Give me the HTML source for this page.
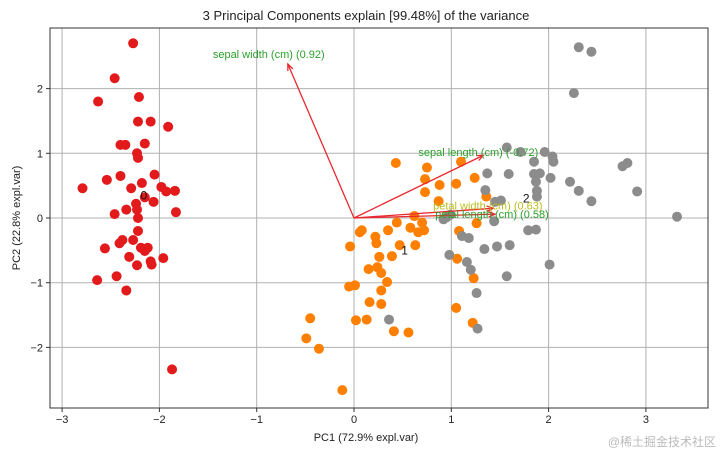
<!DOCTYPE html>
<html><head><meta charset="utf-8"><style>
html,body{margin:0;padding:0;background:#fff;}
svg{display:block;font-family:"Liberation Sans","DejaVu Sans",sans-serif;}
</style></head><body>
<svg id="chart" width="720" height="455" viewBox="0 0 720 455">
<text x="366" y="20" text-anchor="middle" font-size="13" fill="#222">3 Principal Components explain [99.48%] of the variance</text>
<text x="366" y="441" text-anchor="middle" font-size="11" fill="#222">PC1 (72.9% expl.var)</text>
<text x="20" y="218" text-anchor="middle" font-size="11" fill="#222" transform="rotate(-90 20 218)">PC2 (22.8% expl.var)</text>
<text x="716" y="446" text-anchor="end" font-size="12" fill="#bbb" font-family="'Liberation Sans','Noto Sans CJK SC',sans-serif">@稀土掘金技术社区</text>
<g id="grid"></g><g id="pts"></g><g id="arrows"></g><g id="axes"></g>
</svg>
<script>
const xTicks=[-3,-2,-1,0,1,2,3];
const yTicks=[-2,-1,0,1,2];
const class0X=[-2.27,-2.46,-2.63,-2.21,-2.22,-2.09,-1.91,-2.40,-2.35,-2.15,-2.23,-2.22,-2.79,-2.54,-2.40,-2.05,-2.29,-2.18,-1.98,-1.93,-1.84,-2.15,-2.24,-2.06,-2.34,-2.46,-2.23,-2.22,-1.83,-2.22,-2.27,-2.38,-2.41,-2.56,-2.19,-2.12,-2.15,-2.31,-1.96,-2.23,-2.09,-2.08,-2.64,-2.44,-2.34,-1.87];
const class0Y=[2.70,2.16,1.80,1.87,1.49,1.49,1.41,1.13,1.13,1.15,1.00,0.93,0.46,0.59,0.65,0.67,0.46,0.54,0.48,0.41,0.42,0.32,0.22,0.25,0.13,0.06,0.13,0.00,0.09,-0.20,-0.34,-0.34,-0.39,-0.47,-0.46,-0.46,-0.51,-0.60,-0.62,-0.73,-0.67,-0.72,-0.96,-0.90,-1.12,-2.34];
const class1X=[0.43,0.75,0.73,1.10,0.88,1.05,1.24,0.73,0.87,1.36,0.62,0.70,0.44,0.08,0.06,0.35,0.58,0.66,0.72,1.08,1.26,0.22,0.23,-0.04,0.47,0.63,0.26,0.39,0.15,0.24,0.28,1.06,0.34,0.01,-0.05,0.28,1.23,0.16,0.28,1.05,0.02,0.13,-0.45,-0.49,-0.36,0.41,0.56,1.22,-0.12];
const class1Y=[0.85,0.78,0.60,0.87,0.51,0.53,0.62,0.40,0.26,0.33,0.03,-0.07,-0.07,-0.19,-0.22,-0.19,-0.15,-0.22,-0.19,-0.20,-0.08,-0.29,-0.39,-0.44,-0.42,-0.42,-0.60,-0.59,-0.79,-0.76,-0.85,-0.63,-0.99,-1.04,-1.06,-1.12,-0.93,-1.30,-1.33,-1.39,-1.58,-1.57,-1.55,-1.86,-2.02,-1.75,-1.77,-1.62,-2.66];
const class2X=[2.31,2.44,2.26,1.57,1.71,1.96,2.04,2.05,1.85,2.76,2.81,1.37,1.59,1.85,1.91,2.02,1.87,2.22,1.35,2.31,2.91,1.88,1.88,1.51,1.45,2.44,3.32,0.95,0.99,1.44,1.79,1.87,1.11,1.18,1.34,1.47,1.60,0.98,1.16,1.20,2.01,1.57,1.26,1.27,0.36,0.92];
const class2Y=[2.64,2.57,1.93,1.09,1.02,1.02,0.95,0.87,0.87,0.80,0.85,0.69,0.68,0.68,0.69,0.62,0.56,0.56,0.43,0.42,0.41,0.42,0.33,0.27,0.25,0.26,0.02,0.01,0.05,-0.05,-0.19,-0.18,-0.28,-0.31,-0.48,-0.44,-0.42,-0.57,-0.68,-0.80,-0.72,-0.90,-1.16,-1.71,-1.57,-0.02];
const featureNames=["sepal width (cm) (0.92)","sepal length (cm) (-0.72)","petal width (cm) (0.63)","petal length (cm) (0.58)"];
const loadX=[-0.68,1.33,1.43,1.45];
const loadY=[2.38,0.97,0.15,0.06];
const classLabels=["0","1","2"];
const classCenterX=[-2.16,0.52,1.77];
const classCenterY=[0.35,-0.50,0.30];

const L=50,R=708,T=28,B=408;
const sx=v=>354+v*97.3, sy=v=>218-v*64.7;
const NS="http://www.w3.org/2000/svg";
function mk(tag,attrs,parent){const e=document.createElementNS(NS,tag);for(const k in attrs)e.setAttribute(k,attrs[k]);parent.appendChild(e);return e;}
const grid=document.getElementById('grid'),pts=document.getElementById('pts'),arr=document.getElementById('arrows'),axes=document.getElementById('axes');
xTicks.forEach(t=>{
  const l=mk('line',{x1:sx(t),x2:sx(t),y1:T,y2:B,stroke:'#b0b0b0','stroke-width':1},grid);
  
  
  mk('line',{x1:sx(t),x2:sx(t),y1:B,y2:B+4,stroke:'#333'},axes);
  const tx=mk('text',{x:sx(t),y:B+15,'text-anchor':'middle','font-size':11,fill:'#222'},axes);
  tx.textContent=(t<0?'\u2212'+(-t):t);
  
  
});
yTicks.forEach(t=>{
  const l=mk('line',{x1:L,x2:R,y1:sy(t),y2:sy(t),stroke:'#b0b0b0','stroke-width':1},grid);
  
  
  mk('line',{x1:L-4,x2:L,y1:sy(t),y2:sy(t),stroke:'#333'},axes);
  const tx=mk('text',{x:L-7,y:sy(t)+4,'text-anchor':'end','font-size':11,fill:'#222'},axes);
  tx.textContent=(t<0?'\u2212'+(-t):t);
  
  
});
const fr=mk('rect',{x:L,y:T,width:R-L,height:B-T,fill:'none',stroke:'#333','stroke-width':1},axes);


const sets=[[class0X,class0Y,'#e31a1c'],[class1X,class1Y,'#ff7f00'],[class2X,class2Y,'#8c8c8c']];
sets.forEach((s,ci)=>{
  s[0].forEach((x,i)=>{
    const c=mk('circle',{cx:sx(x),cy:sy(s[1][i]),r:5,fill:s[2]},pts);
    
    
  });
});
classLabels.forEach((lb,i)=>{
  const t=mk('text',{x:sx(classCenterX[i]),y:sy(classCenterY[i])+4,'text-anchor':'middle','font-size':12,fill:'#111'},pts);
  t.textContent=lb;
  
  
});
const labColors=['#2ca02c','#2ca02c','#bcbd22','#2ca02c'];
const labDX=[-75,-65,-60,-60],labDY=[-6,1,1,4];
loadX.forEach((x,i)=>{
  const x2=sx(x),y2=sy(loadY[i]),x1=sx(0),y1=sy(0);
  const a=mk('line',{x1:x1,y1:y1,x2:x2,y2:y2,stroke:'#e8292e','stroke-width':1.3},arr);
  
  
  const ang=Math.atan2(y2-y1,x2-x1),h=7;
  const p=[[x2,y2],[x2-h*Math.cos(ang-0.4),y2-h*Math.sin(ang-0.4)],[x2-h*Math.cos(ang+0.4),y2-h*Math.sin(ang+0.4)]];
  const hd=mk('polyline',{points:p[1].join(',')+' '+p[0].join(',')+' '+p[2].join(','),fill:'none',stroke:'#e8292e','stroke-width':1.3},arr);
  
  
  const t=mk('text',{x:x2+labDX[i],y:y2+labDY[i],'font-size':11,fill:labColors[i]},arr);
  t.textContent=featureNames[i];
  
  
});
</script>
</body></html>
